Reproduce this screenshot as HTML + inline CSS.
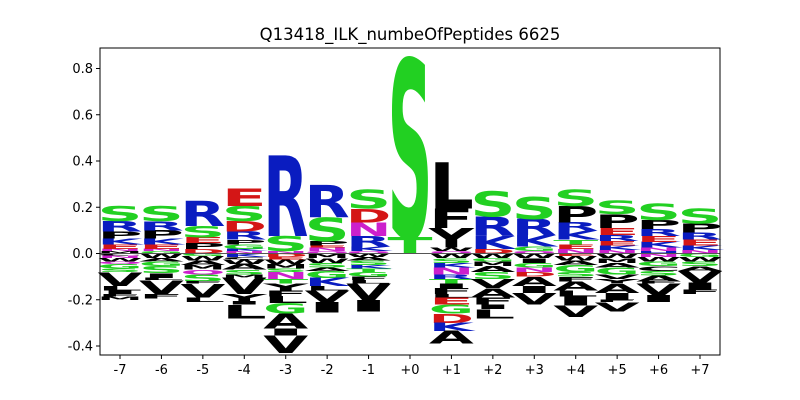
<!DOCTYPE html>
<html><head><meta charset="utf-8"><style>
body{margin:0;background:#fff;}
svg{display:block;font-family:"DejaVu Sans","Liberation Sans",sans-serif;}
</style></head><body>
<svg id="chart" width="800" height="400">
<rect width="800" height="400" fill="#fff"/>
<text x="410" y="40" text-anchor="middle" font-size="16.5">Q13418_ILK_numbeOfPeptides 6625</text>
<g id="marks"></g>
<g id="axes"></g>
</svg>
<script>
const positions = ["-7","-6","-5","-4","-3","-2","-1","+0","+1","+2","+3","+4","+5","+6","+7"];
// positive stacks, bottom to top: [letter, value]
const posStacks = [
 [["M",.01],["N",.01],["E",.02],["K",.025],["P",.03],["R",.045],["S",.065]],
 [["G",.01],["N",.01],["E",.02],["K",.025],["P",.035],["R",.04],["S",.065]],
 [["D",.02],["P",.025],["E",.025],["S",.05],["R",.11]],
 [["N",.01],["K",.01],["G",.02],["P",.02],["R",.035],["D",.045],["S",.065],["E",.075]],
 [["N",.01],["S",.065],["R",.35]],
 [["Q",.01],["N",.015],["E",.01],["P",.02],["S",.10],["R",.14]],
 [["Q",.01],["K",.02],["R",.045],["N",.06],["D",.06],["S",.08]],
 [["T",.07],["S",.77]],
 [["Q",.01],["W",.015],["Y",.085],["F",.085],["L",.2]],
 [["D",.02],["K",.055],["R",.085],["S",.11]],
 [["Q",.01],["G",.02],["K",.05],["R",.07],["S",.095]],
 [["N",.02],["E",.02],["T",.02],["K",.04],["R",.035],["P",.07],["S",.07]],
 [["N",.015],["K",.02],["E",.02],["R",.025],["E",.03],["P",.06],["S",.06]],
 [["H",.01],["N",.015],["K",.025],["E",.025],["R",.03],["P",.04],["S",.07]],
 [["N",.015],["K",.02],["E",.025],["R",.03],["P",.04],["S",.065]]
];
// negative stacks, top to bottom
const negStacks = [
 [["C",.01],["N",.01],["W",.015],["Q",.01],["G",.02],["S",.015],["V",.06],["L",.02],["I",.015],["F",.01],["M",.015]],
 [["W",.02],["A",.015],["G",.02],["S",.03],["I",.02],["L",.01],["V",.06],["F",.02]],
 [["G",.01],["W",.02],["A",.02],["M",.02],["Q",.02],["S",.03],["F",.01],["V",.06],["L",.02]],
 [["K",.015],["C",.01],["W",.02],["A",.025],["S",.02],["M",.015],["V",.07],["Y",.03],["I",.015],["L",.06]],
 [["D",.015],["E",.01],["W",.02],["M",.02],["S",.015],["N",.03],["T",.02],["Y",.03],["F",.025],["L",.03],["G",.045],["A",.065],["I",.03],["V",.075]],
 [["M",.02],["W",.02],["S",.02],["A",.015],["G",.03],["K",.035],["L",.02],["V",.05],["I",.045]],
 [["W",.015],["A",.015],["S",.02],["K",.015],["T",.015],["G",.02],["F",.015],["L",.015],["V",.07],["I",.05]],
 [],
 [["W",.02],["S",.02],["K",.02],["N",.03],["R",.02],["T",.02],["I",.02],["F",.025],["L",.015],["E",.03],["G",.04],["D",.04],["K",.035],["A",.055]],
 [["W",.02],["G",.015],["M",.02],["A",.025],["S",.03],["V",.04],["A",.04],["F",.03],["I",.02],["L",.04]],
 [["W",.02],["I",.02],["G",.02],["N",.02],["D",.02],["A",.04],["I",.03],["V",.05]],
 [["E",.01],["W",.02],["A",.02],["G",.03],["S",.02],["F",.02],["A",.04],["L",.025],["I",.04],["V",.05]],
 [["W",.02],["M",.02],["A",.02],["G",.03],["V",.02],["Y",.02],["A",.04],["I",.03],["F",.01],["V",.04]],
 [["N",.015],["W",.02],["G",.02],["C",.02],["S",.02],["A",.025],["F",.01],["V",.05],["I",.03]],
 [["G",.015],["W",.02],["S",.02],["A",.02],["V",.05],["I",.03],["F",.02]]
];
const yTicks = [-0.4,-0.2,0.0,0.2,0.4,0.6,0.8];

const NS="http://www.w3.org/2000/svg";
const X0=100,X1=720,Y0=48,Y1=355;
const yZero=253.5, yPer=231.25;
const yS=v=>yZero-v*yPer;
const xS=i=>120+i*(580/14);
const colW=45;
const colors={S:"#22d022",T:"#22d022",G:"#22d022",R:"#0a1cc0",K:"#0a1cc0",H:"#0a1cc0",D:"#d41616",E:"#d41616",N:"#cc20cc",Q:"#cc20cc"};
const marks=document.getElementById("marks");
function letter(ch,v,yBottom,i){
  const h=v*yPer; if(h<=0) return;
  const t=document.createElementNS(NS,"text");
  
  
  t.setAttribute("x",0);t.setAttribute("y",0);
  t.setAttribute("font-size",100);t.setAttribute("font-weight","bold");
  t.setAttribute("textLength",colW);t.setAttribute("lengthAdjust","spacingAndGlyphs");
  t.setAttribute("fill",colors[ch]||"#000");
  t.setAttribute("transform",`translate(${xS(i)-colW/2},${yBottom}) scale(1,${h/72.9})`);
  t.textContent=ch;
  marks.appendChild(t);
}
positions.forEach((p,i)=>{
  let acc=0;
  posStacks[i].forEach(([ch,v])=>{letter(ch,v,yS(acc),i);acc+=v;});
  acc=0;
  negStacks[i].forEach(([ch,v])=>{acc-=v;letter(ch,v,yS(acc),i);});
});
const ax=document.getElementById("axes");
function el(tag,attrs,name,txt){const e=document.createElementNS(NS,tag);for(const k in attrs)e.setAttribute(k,attrs[k]);
 
 
 if(txt!==undefined)e.textContent=txt;ax.appendChild(e);return e;}
el("line",{x1:X0,x2:X1,y1:yZero,y2:yZero,stroke:"#555","stroke-width":1},"zero-line");
el("rect",{x:X0,y:Y0,width:X1-X0,height:Y1-Y0,fill:"none",stroke:"#000","stroke-width":1},"plot-frame");
yTicks.forEach(v=>{const y=yS(v);
 el("line",{x1:X0-4,x2:X0,y1:y,y2:y,stroke:"#000"},"y-tick");
 el("text",{x:X0-7,y:y+4.5,"text-anchor":"end","font-size":13},"y-tick-label",v.toFixed(1));});
positions.forEach((p,i)=>{const x=xS(i);
 el("line",{x1:x,x2:x,y1:Y1,y2:Y1+4,stroke:"#000"},"x-tick");
 el("text",{x:x,y:Y1+19,"text-anchor":"middle","font-size":13},"x-tick-label",p);});
</script>
</body></html>
